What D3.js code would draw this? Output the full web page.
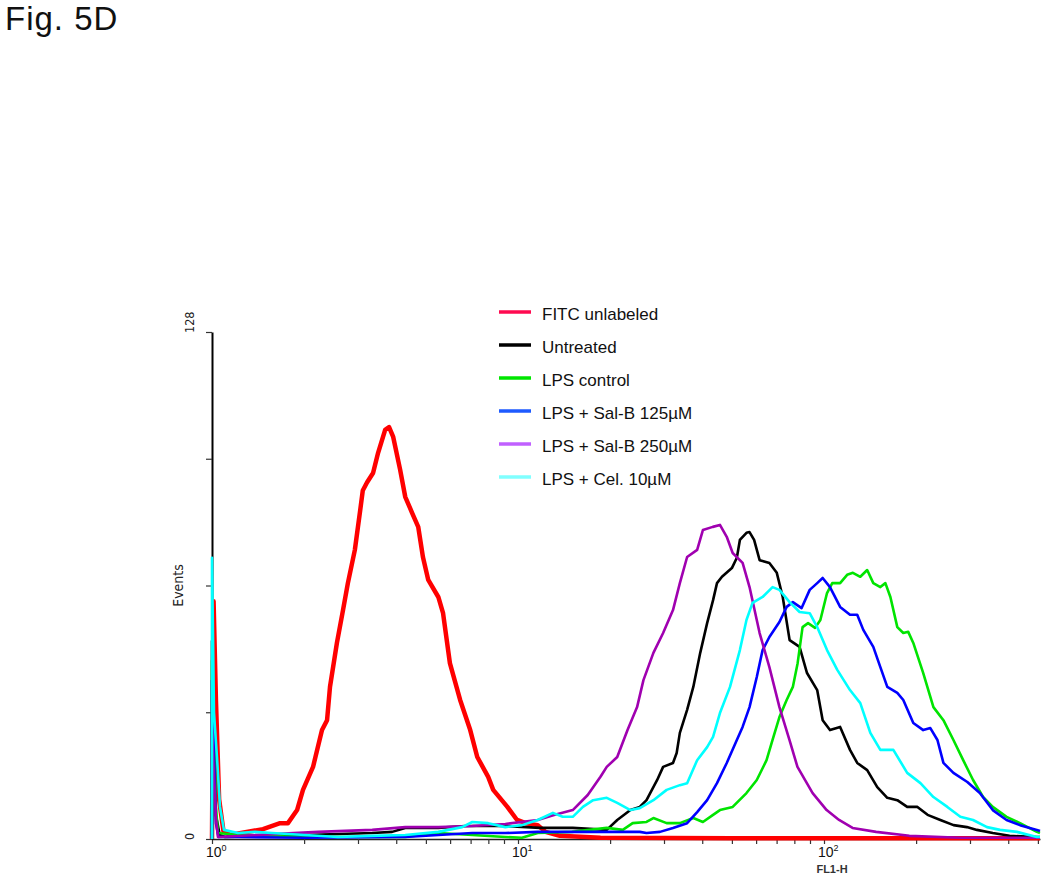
<!DOCTYPE html>
<html>
<head>
<meta charset="utf-8">
<script src="https://cdn.jsdelivr.net/npm/d3@7"></script>
<style>
body { margin: 0; background: #fff; }
</style>
</head>
<body>
<div id="chart"></div>
<script>
// legend / series
let seriesNames = ["FITC unlabeled", "Untreated", "LPS control", "LPS + Sal-B 125\u00b5M", "LPS + Sal-B 250\u00b5M", "LPS + Cel. 10\u00b5M"];
let seriesColors = ["#ff0000", "#000000", "#00e400", "#0000ff", "#a000b0", "#00ffff"];
let legendColors = ["#ff0a50", "#000000", "#00e600", "#1e5aff", "#c060ff", "#80ffff"];

// [FL1-H, events]
let fitcUnlabeled = [[1.0,0],[1.012,60],[1.03,35],[1.055,10],[1.09,2],[1.145,1],[1.468,2.5],[1.669,4],[1.771,4],[1.897,7.3],[1.983,12.4],[2.139,18.2],[2.288,27.5],[2.377,30],[2.43,38.4],[2.56,49.5],[2.68,57.8],[2.78,64.6],[2.93,73],[3.05,83],[3.11,88],[3.21,90],[3.36,92.4],[3.49,97.5],[3.68,103.3],[3.79,104],[3.91,101.5],[4.12,93.2],[4.28,86.4],[4.51,82.3],[4.72,78.8],[4.89,71.2],[5.09,65.4],[5.49,61.1],[5.69,57],[5.99,44.4],[6.47,35.1],[6.98,27.5],[7.36,20.7],[7.99,15.7],[8.3,12.4],[9.23,8.1],[9.93,4.8],[10.6,4],[11.6,3.5],[12.3,1.8],[13.7,0.8],[18.6,0.3],[50,0.2],[508,0.2]];

let untreated = [[1.0,0],[1.0,50],[1.03,6],[1.06,1],[1.103,0.5],[2.01,1],[3.34,1.5],[3.88,1.8],[4.28,2.8],[5.49,2.8],[6.72,3.3],[9.09,3.3],[11.8,2.8],[15.1,2.8],[19.5,2.3],[21.1,4.8],[23.3,7.3],[25.0,8.1],[26.3,9.8],[28.5,14.9],[29.8,18.2],[32.1,19.2],[33.0,21.7],[33.8,26.8],[35.7,32.6],[37.4,38.4],[39.4,47],[41.5,54.5],[43.4,60.3],[44.7,64.6],[46.4,66.2],[50.0,68.4],[51.9,71],[53.1,75.5],[55.8,77.3],[57.1,77.5],[59.1,75.5],[61.6,70.4],[66.3,69.7],[70.1,67.2],[73.3,61.1],[77.2,50.2],[83.2,48.5],[88.0,41.9],[95.0,37.6],[99.0,30],[104.6,27.5],[112.9,28.3],[121.6,22.5],[128.4,19.2],[138.4,17.4],[149.3,13.1],[161,10.4],[173.6,9.8],[187,8.1],[202,8.1],[218,6.1],[240,4.8],[265,3.5],[293,3],[316,2.3],[356,1.5],[404,0.8],[496,0.5],[508,0.5]];

let lpsControl = [[1.0,0],[1.0,45],[1.03,8],[1.046,1.5],[1.216,1],[2.01,0.5],[4.28,0.5],[5.49,1.5],[7.09,1],[9.09,0.5],[10.3,0.3],[11.6,1.5],[15.0,1.8],[19.5,2.8],[22.0,2.3],[23.7,4],[26.3,4.3],[27.7,5.3],[30.6,4],[33.8,4],[37.4,5.3],[40.2,4.3],[43.4,6.1],[45.7,7.3],[50.3,8.1],[55.8,11.6],[60.3,14.9],[64.9,19.9],[67.9,25],[71.5,30.8],[75.5,35.1],[79.1,38.4],[82.0,44.4],[85.1,53.5],[88.7,54.5],[93.5,53.3],[97.3,55.3],[102.3,62.1],[106.4,64.6],[112.9,64.6],[119.0,66.7],[124.3,67.2],[131.4,66.2],[138.4,67.9],[144.9,64.6],[152.8,63.6],[158.7,64.6],[164.8,61.1],[173.6,53.5],[181.6,52],[188.5,52.3],[195.8,49.5],[211,41.9],[227.8,33.3],[245.6,30],[264.8,25],[285,19.9],[307,14.9],[331,10.6],[356,8.1],[395,5.6],[437,4],[496,1.8],[508,1.5]];

let salB125 = [[1.0,0],[1.0,40],[1.03,4],[1.05,0.5],[1.216,0.5],[2.01,0.3],[4.28,0.5],[5.49,1],[7.09,1.5],[9.09,1.5],[11.6,1.8],[15.0,1.8],[19.5,1.8],[25.0,1.8],[26.3,1.5],[29.1,1.8],[32.1,2.8],[35.7,4],[38.5,6.8],[41.5,9.8],[44.7,14.1],[48.1,19.2],[51.9,25],[54.2,28.3],[57.1,33.3],[60.3,40.9],[63.0,47.7],[66.3,51],[71.5,54.8],[75.5,58.6],[79.1,59.8],[84.5,58.3],[89.8,62.9],[95.0,64.6],[99.0,65.9],[104.6,63.6],[112.9,58.6],[121.6,56.6],[128.4,56.6],[134.4,52.8],[144.9,48.5],[152.8,43.4],[161,38.4],[173.6,36.9],[181.6,35.1],[195.8,29.3],[211,27.5],[222.6,28],[234.8,25],[245.6,19.2],[264.8,16.7],[294,14.4],[323,11.6],[356,7.3],[395,4.8],[437,3.5],[496,2.3],[508,2]];

let salB250 = [[1.0,0],[1.0,30],[1.01,20],[1.03,5],[1.046,0.5],[2.22,1.8],[3.34,2.3],[4.28,3],[5.49,3],[7.09,3.3],[9.09,3.8],[11.6,4.8],[13.2,6.1],[15.1,7.3],[16.9,11.1],[18.6,15.7],[19.5,18.2],[21.1,20.7],[22.8,27.5],[24.5,33.3],[25.7,40.1],[27.7,47],[29.8,52],[32.1,57.8],[33.8,64.6],[35.7,71.2],[38.5,73],[40.2,78],[43.3,78.8],[45.7,79.3],[48.1,76.3],[50.3,72.2],[54.2,69.7],[57.1,63.6],[61.6,52],[66.3,43.4],[71.5,33.3],[77.1,25],[81.9,18.2],[91.8,11.6],[102,7.3],[112,4.8],[124,2.8],[148,1.8],[190,0.8],[279,0.3],[508,0.3]];

let cel10 = [[1.0,0],[1.0,71],[1.015,32],[1.038,20.7],[1.062,8.1],[1.094,2.3],[1.216,1.5],[1.382,1.8],[1.571,1.5],[2.01,1],[2.58,0.5],[3.34,0.8],[4.28,1],[5.49,1.8],[6.57,3],[7.09,4.3],[7.99,4],[9.09,3],[10.3,3.5],[11.6,4.8],[13.0,6.6],[14.0,5.6],[15.1,5.6],[16.3,8.1],[17.6,9.8],[19.5,10.4],[21.1,9.1],[23.3,7.3],[25.0,7.8],[27.7,9.8],[30.6,12.4],[33.8,13.6],[35.7,14.1],[38.5,19.9],[41.5,23.2],[43.4,25.8],[45.7,31.8],[49.3,38.4],[53.1,47.7],[55.8,55.3],[58.4,59.6],[63.0,61.1],[67.9,63.6],[71.5,62.9],[77.2,59.8],[83.2,57.3],[89.8,57],[95.0,53.5],[102.3,47.7],[110.5,42.7],[121.6,37.6],[131.4,34.3],[141.7,26.8],[152.8,22.5],[168.5,22.5],[187,16.7],[206.6,14.1],[227.8,10.6],[253,8.1],[279,5.6],[307,4.8],[341,3],[376,2.3],[427,1.8],[496,0.5],[508,0.5]];

let allSeries = [fitcUnlabeled, untreated, lpsControl, salB125, salB250, cel10];

// axis values
let xDomain = [1, 508];
let yDomain = [0, 128];
let yTicks = [0, 32, 64, 96, 128];
let yTickLabels = [0, 128];
let decades = [1, 10, 100];
let decadeExp = ["0", "1", "2"];

let width = 1050, height = 885;

let svg = d3.select("#chart").append("svg")
	.attr("width", width)
	.attr("height", height);

let x = d3.scaleLog().domain(xDomain).range([212, 1040]);
let y = d3.scaleLinear().domain(yDomain).range([839, 332]);

let narrow = "'Liberation Sans Narrow', 'DejaVu Sans Condensed', Arial, sans-serif";
let sans = "'Liberation Sans', Arial, sans-serif";

// title
svg.append("text")
	.attr("x", 5)
	.attr("y", 30)
	.attr("font-family", sans)
	.attr("font-size", "33px")
	.attr("letter-spacing", "1px")
	.attr("fill", "#111")
	.text("Fig. 5D");

// x axis (drawn first so the histograms sit on top, like the original)
let xAxis = d3.axisBottom(x)
	.tickValues(x.ticks())
	.tickSize(5)
	.tickSizeOuter(0)
	.tickFormat("");

svg.append("g")
	.attr("transform", "translate(0," + y(0) + ")")
	.call(xAxis)
	.call(g => g.select(".domain").attr("stroke", "#222").attr("stroke-width", 1.5))
	.call(g => g.selectAll(".tick line").attr("stroke", "#333").attr("stroke-width", 1.2));

// y axis
let yAxis = d3.axisLeft(y)
	.tickValues(yTicks)
	.tickSize(6)
	.tickSizeOuter(0)
	.tickFormat("");

svg.append("g")
	.attr("transform", "translate(" + x(1) + ",0)")
	.call(yAxis)
	.call(g => g.select(".domain").attr("stroke", "#000").attr("stroke-width", 2))
	.call(g => g.selectAll(".tick line").attr("stroke", "#333").attr("stroke-width", 1.2));

// histogram lines
let line = d3.line()
	.x(d => x(d[0]))
	.y(d => y(d[1]));

svg.append("g").selectAll("path")
	.data(allSeries)
	.enter()
	.append("path")
	.attr("d", line)
	.attr("fill", "none")
	.attr("stroke", (d, i) => seriesColors[i])
	.attr("stroke-width", (d, i) => i == 0 ? 4.5 : 2.6)
	.attr("stroke-linejoin", "round");

// decade labels 10^n
let dec = svg.append("g").selectAll("text")
	.data(decades)
	.enter()
	.append("text")
	.attr("x", d => x(d) - 6)
	.attr("y", 857)
	.attr("font-family", sans)
	.attr("font-size", "14px")
	.attr("fill", "#111");
dec.append("tspan").text("10");
dec.append("tspan")
	.attr("font-size", "9px")
	.attr("dy", -6)
	.text((d, i) => decadeExp[i]);

// y tick labels (rotated)
svg.append("g").selectAll("text")
	.data(yTickLabels)
	.enter()
	.append("text")
	.attr("transform", d => "translate(194," + (y(d) + 1) + ") rotate(-90)")
	.attr("text-anchor", "start")
	.attr("font-family", narrow)
	.attr("font-size", "12.5px")
	.attr("fill", "#222")
	.text(d => d);

// axis titles
svg.append("text")
	.attr("transform", "translate(183," + y(64) + ") rotate(-90)")
	.attr("text-anchor", "middle")
	.attr("font-family", narrow)
	.attr("font-size", "14px")
	.attr("fill", "#222")
	.text("Events");

svg.append("text")
	.attr("x", 832)
	.attr("y", 873)
	.attr("text-anchor", "middle")
	.attr("font-family", sans)
	.attr("font-weight", "bold")
	.attr("font-size", "11px")
	.attr("fill", "#333")
	.text("FL1-H");

// legend
let legendY = d3.scalePoint().domain(seriesNames).range([312, 477]);

let legend = svg.append("g").selectAll("g")
	.data(seriesNames)
	.enter()
	.append("g")
	.attr("transform", d => "translate(0," + legendY(d) + ")");

legend.append("line")
	.attr("x1", 499)
	.attr("x2", 531)
	.attr("stroke", (d, i) => legendColors[i])
	.attr("stroke-width", 3.5);

legend.append("text")
	.attr("x", 542)
	.attr("y", 8)
	.attr("font-family", sans)
	.attr("font-size", "17px")
	.attr("fill", "#111")
	.text(d => d);
</script>
</body>
</html>
